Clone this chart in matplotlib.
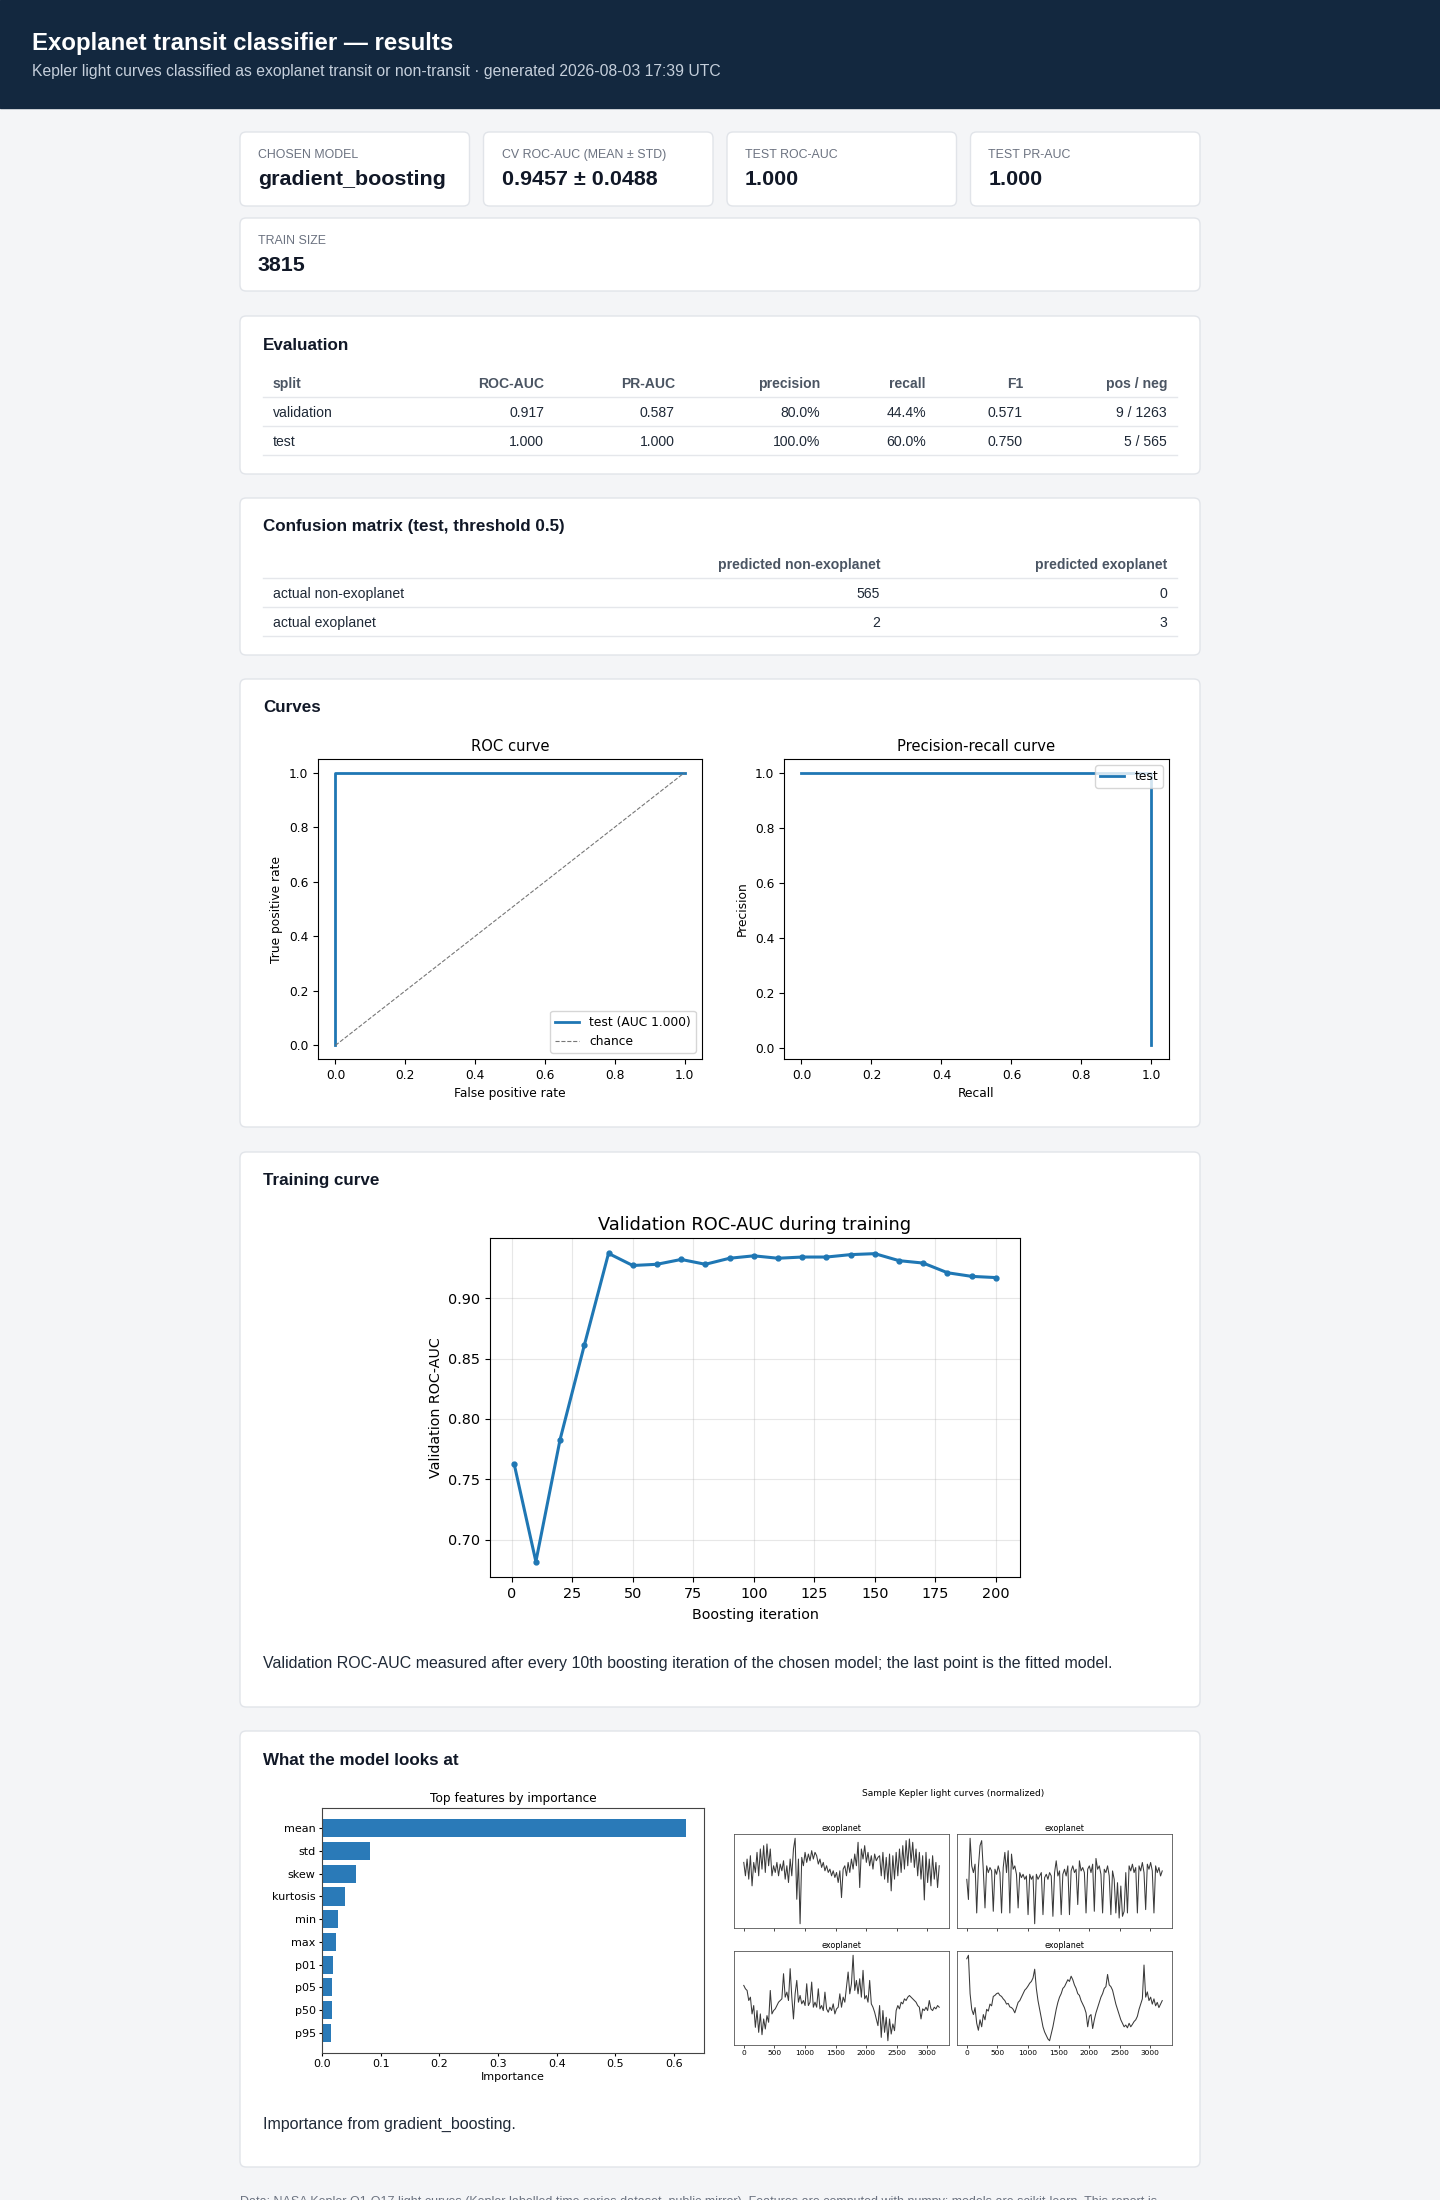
import numpy as np
import matplotlib.pyplot as plt
from matplotlib.patches import FancyBboxPatch, Rectangle

# ---- report data ----
kpi_labels = ["CHOSEN MODEL", "CV ROC-AUC (MEAN ± STD)", "TEST ROC-AUC", "TEST PR-AUC"]
kpi_values = ["gradient_boosting", "0.9457 ± 0.0488", "1.000", "1.000"]
train_size = "3815"

eval_cols = ["split", "ROC-AUC", "PR-AUC", "precision", "recall", "F1", "pos / neg"]
eval_rows = [["validation", "0.917", "0.587", "80.0%", "44.4%", "0.571", "9 / 1263"],
             ["test", "1.000", "1.000", "100.0%", "60.0%", "0.750", "5 / 565"]]

cm_cols = ["predicted non-exoplanet", "predicted exoplanet"]
cm_rows = ["actual non-exoplanet", "actual exoplanet"]
cm_vals = [[565, 0], [2, 3]]

roc_fpr = [0.0, 0.0, 1.0]
roc_tpr = [0.0, 1.0, 1.0]
pr_recall = [1.0, 1.0, 0.8, 0.6, 0.4, 0.2, 0.0]
pr_precision = [0.0088, 1.0, 1.0, 1.0, 1.0, 1.0, 1.0]

iters = [1, 10, 20, 30, 40, 50, 60, 70, 80, 90, 100, 110, 120, 130, 140, 150, 160, 170, 180, 190, 200]
val_auc = [0.763, 0.682, 0.783, 0.861, 0.937, 0.927, 0.928, 0.932, 0.928, 0.933, 0.935,
           0.933, 0.934, 0.934, 0.936, 0.9368, 0.931, 0.929, 0.921, 0.918, 0.917]

feat_names = ["mean", "std", "skew", "kurtosis", "min", "max", "p01", "p05", "p50", "p95"]
feat_imp = [0.620, 0.082, 0.058, 0.039, 0.027, 0.024, 0.018, 0.017, 0.017, 0.015]

# sample light curves, read as depth below the panel top (bigger = fainter)
lc1_depth = [100, 140, 90, 150, 80, 170, 100, 130, 70, 140, 60, 120, 50, 130, 45, 110, 60, 140,
             110, 130, 100, 140, 105, 125, 95, 150, 110, 160, 90, 140, 60,
             28, 210, 90, 283,
             85, 110, 70, 100, 75, 95, 65, 90, 70,
             80, 105, 90, 115, 100, 125, 110, 130, 120, 140, 125, 145,
             130, 160, 125, 205, 120,
             110, 140, 100, 130, 90, 120, 75, 110, 40, 175, 60, 90, 50,
             100, 70, 110, 80, 120, 75, 95, 85,
             80, 140, 70, 150, 85, 160, 75, 185, 80, 150, 70, 140, 60, 130,
             50, 120, 35, 110, 30, 100, 40, 115,
             60, 140, 70, 150, 80, 212, 70, 160, 90, 170, 80, 150, 100, 175, 110]
lc2_depth = [150, 210, 28, 110, 130, 105, 250, 115, 50, 35, 125, 235, 110, 130, 115, 125, 245, 120,
             135, 110, 130, 250, 115, 70, 130, 65, 250, 75, 120, 110, 135, 235, 130, 145, 135, 150,
             140, 255, 135, 150, 140, 282, 135, 150, 140, 130, 255, 145, 135, 150, 130, 140, 260,
             130, 95, 140, 125, 255, 135, 120, 140, 110, 255, 125, 110, 130, 120, 225, 95, 125,
             115, 130, 250, 120, 110, 130, 105, 245, 88, 120, 110, 135, 250, 120, 130, 110, 140,
             255, 125, 150, 250, 160, 265, 170, 260, 245, 130, 250, 110, 125, 105, 130, 115, 250,
             110, 125, 100, 130, 240, 105, 120, 100, 125, 250, 110, 130, 115, 140, 125]
lc3_depth = [115, 125, 130, 160, 150, 200, 175, 240, 190, 255, 200, 262, 215, 245, 205, 225, 130,
             200, 190, 185, 175, 165, 160, 155, 80, 150, 135, 160, 65, 150, 215, 140, 100, 165,
             145, 170, 160, 175, 110, 175, 165, 105, 180, 165, 180, 125, 185, 175, 190, 135, 185,
             195, 180, 190, 170, 200, 185, 180, 140, 180, 150, 165, 120, 75, 140, 110, 25, 130,
             100, 140, 95, 150, 70, 155, 145, 165, 100, 170, 180, 195, 215, 235, 175, 270, 190,
             255, 210, 280, 215, 260, 230, 250, 190, 175, 185, 165, 170, 155, 160, 150, 145, 150,
             155, 160, 165, 175, 180, 215, 185, 190, 180, 190, 160, 185, 190, 180, 185, 175, 180]
lc4_depth = [40, 30, 140, 185, 200, 180, 225, 245, 215, 235, 200, 215, 185, 190, 170, 175, 148,
             145, 140, 138, 145, 148, 155, 160, 170, 168, 178, 180, 185, 195, 180, 165, 160, 150,
             140, 130, 125, 118, 110, 105, 95, 70, 125, 160, 185, 210, 235, 250, 260, 270, 275,
             255, 235, 210, 185, 165, 150, 140, 125, 120, 110, 100, 105, 90, 100, 115, 125, 140,
             145, 160, 170, 180, 195, 235, 205, 200, 240, 215, 195, 180, 165, 150, 140, 125, 120,
             85, 115, 120, 130, 150, 170, 185, 200, 215, 225, 235, 230, 238, 225, 235, 228, 220,
             215, 205, 185, 170, 155, 58, 150, 135, 160, 150, 170, 155, 175, 165, 180, 170, 160]
light_curves = [lc1_depth, lc2_depth, lc3_depth, lc4_depth]
lc_titles = ["exoplanet", "exoplanet", "exoplanet", "exoplanet"]

# ---- page ----
W, H = 1440, 2200
fig = plt.figure(figsize=(W / 100, H / 100), dpi=100)
fig.patch.set_facecolor('#f4f5f7')

bg = fig.add_axes([0, 0, 1, 1])
bg.set_xlim(0, W)
bg.set_ylim(H, 0)
bg.axis('off')

PAGE_FONT = ['Liberation Sans', 'DejaVu Sans']


def txt(x, y, s, px, color='#111827', bold=False, ha='left'):
    bg.text(x, y, s, fontsize=px * 0.72, color=color, ha=ha, va='baseline',
            fontweight='bold' if bold else 'normal', family=PAGE_FONT)


def card(x0, y0, x1, y1):
    bg.add_patch(FancyBboxPatch((x0, y0), x1 - x0, y1 - y0,
                                boxstyle='round,pad=0,rounding_size=6',
                                fc='white', ec='#e1e4e9', lw=1))


def hline(y):
    bg.plot([263, 1177], [y, y], color='#e5e7eb', lw=1)


def px_axes(l, t, r, b):
    return fig.add_axes([l / W, 1 - b / H, (r - l) / W, (b - t) / H])


# header
bg.add_patch(Rectangle((0, 0), W, 108, color='#13283f'))
txt(32, 50, "Exoplanet transit classifier — results", 24, 'white', bold=True)
txt(32, 76, "Kepler light curves classified as exoplanet transit or non-transit · generated 2026-08-03 17:39 UTC",
    15.8, '#c5cfdb')

# KPI cards
kx = [240, 483.5, 727, 970.5]
for x0, lab, val in zip(kx, kpi_labels, kpi_values):
    card(x0, 132, x0 + 229.5, 206)
    txt(x0 + 18, 158, lab, 12.4, '#6b7280')
    txt(x0 + 18, 185, val, 21.5, '#111827', bold=True)
card(240, 218, 1200, 291)
txt(258, 244, "TRAIN SIZE", 12.4, '#6b7280')
txt(258, 271, train_size, 21.5, '#111827', bold=True)

# evaluation table
card(240, 316, 1200, 474)
txt(263, 350, "Evaluation", 17, bold=True)
col_right = [544, 675, 820, 926, 1023, 1167]
txt(273, 388, eval_cols[0], 14, '#4b5563', bold=True)
for xr, c in zip(col_right, eval_cols[1:]):
    txt(xr, 388, c, 14, '#4b5563', bold=True, ha='right')
hline(397)
for yb, yl, row in zip([417, 446], [426, 455], eval_rows):
    txt(273, yb, row[0], 14, '#1f2937')
    for xr, v in zip(col_right, row[1:]):
        txt(xr, yb, v, 14, '#1f2937', ha='right')
    hline(yl)

# confusion matrix
card(240, 498, 1200, 655)
txt(263, 531, "Confusion matrix (test, threshold 0.5)", 17, bold=True)
cm_right = [880, 1167]
for xr, c in zip(cm_right, cm_cols):
    txt(xr, 569, c, 14, '#4b5563', bold=True, ha='right')
hline(578)
for yb, yl, lab, vals in zip([598, 627], [607, 636], cm_rows, cm_vals):
    txt(273, yb, lab, 14, '#1f2937')
    for xr, v in zip(cm_right, vals):
        txt(xr, yb, str(v), 14, '#1f2937', ha='right')
    hline(yl)

# curves
card(240, 679, 1200, 1127)
txt(263, 712, "Curves", 17, bold=True)

ax = px_axes(318, 759, 702, 1059)
ax.plot(roc_fpr, roc_tpr, color='#1f77b4', lw=2, label='test (AUC 1.000)')
ax.plot([0, 1], [0, 1], '--', color='#777777', lw=0.8, label='chance')
ax.set_title("ROC curve", fontsize=10.6)
ax.set_xlabel("False positive rate", fontsize=8.8)
ax.set_ylabel("True positive rate", fontsize=8.8)
ax.tick_params(labelsize=8.8)
ax.legend(loc='lower right', fontsize=8.8)

ax = px_axes(784, 759, 1169, 1059)
ax.plot(pr_recall, pr_precision, color='#1f77b4', lw=2, label='test')
ax.set_title("Precision-recall curve", fontsize=10.6)
ax.set_xlabel("Recall", fontsize=8.8)
ax.set_ylabel("Precision", fontsize=8.8)
ax.tick_params(labelsize=8.8)
ax.legend(loc='upper right', fontsize=8.8)

# training curve
card(240, 1152, 1200, 1707)
txt(263, 1185, "Training curve", 17, bold=True)
ax = px_axes(490, 1238, 1020, 1577)
ax.plot(iters, val_auc, marker='o', ms=3.5, lw=2.2, color='#1f77b4')
ax.set_yticks([0.70, 0.75, 0.80, 0.85, 0.90])
ax.grid(alpha=0.3)
ax.set_title("Validation ROC-AUC during training", fontsize=12.8)
ax.set_xlabel("Boosting iteration", fontsize=10.3, labelpad=5)
ax.set_ylabel("Validation ROC-AUC", fontsize=10.3)
ax.tick_params(labelsize=10.4)
txt(263, 1668, "Validation ROC-AUC measured after every 10th boosting iteration of the chosen model; "
    "the last point is the fitted model.", 16, '#1f2937')

# what the model looks at
card(240, 1731, 1200, 2167)
txt(263, 1765, "What the model looks at", 17, bold=True)

ax = px_axes(322, 1808, 704, 2053)
ypos = np.arange(len(feat_names))
ax.barh(ypos, feat_imp, color='#2a7ab8')
ax.set_yticks(ypos)
ax.set_yticklabels(feat_names)
ax.invert_yaxis()
ax.set_title("Top features by importance", fontsize=8.7, pad=4)
ax.set_xlabel("Importance", fontsize=8, labelpad=2)
ax.tick_params(labelsize=8, length=2.5, pad=2)
for s in ax.spines.values():
    s.set_color('#444444')

boxes = [(734, 1834, 949, 1928), (957, 1834, 1172, 1928),
         (734, 1951, 949, 2045), (957, 1951, 1172, 2045)]
for i, (box, depth, ttl) in enumerate(zip(boxes, light_curves, lc_titles)):
    a = px_axes(*box)
    flux = -np.array(depth, dtype=float)
    flux = (flux - flux.mean()) / flux.std()
    t = np.linspace(0, 3196, len(flux))
    a.plot(t, flux, color='#3a3a3a', lw=0.75)
    a.set_title(ttl, fontsize=5.8, pad=2.5)
    a.set_yticks([])
    a.set_xticks([0, 500, 1000, 1500, 2000, 2500, 3000])
    a.tick_params(labelsize=5.4, length=1.8, width=0.5, pad=1.5, labelbottom=(i >= 2))
    for s in a.spines.values():
        s.set_color('#555555')
        s.set_linewidth(0.6)
bg.text(953, 1793, "Sample Kepler light curves (normalized)", fontsize=6.5, ha='center', va='center')

txt(263, 2129, "Importance from gradient_boosting.", 16, '#1f2937')

# footer (cut off by the page edge)
txt(240, 2205, "Data: NASA Kepler Q1-Q17 light curves (Kepler labelled time series dataset, public mirror). "
    "Features are computed with numpy; models are scikit-learn. This report is", 12.5, '#6b7280')

fig.savefig("out.png", dpi=100, facecolor=fig.get_facecolor())
